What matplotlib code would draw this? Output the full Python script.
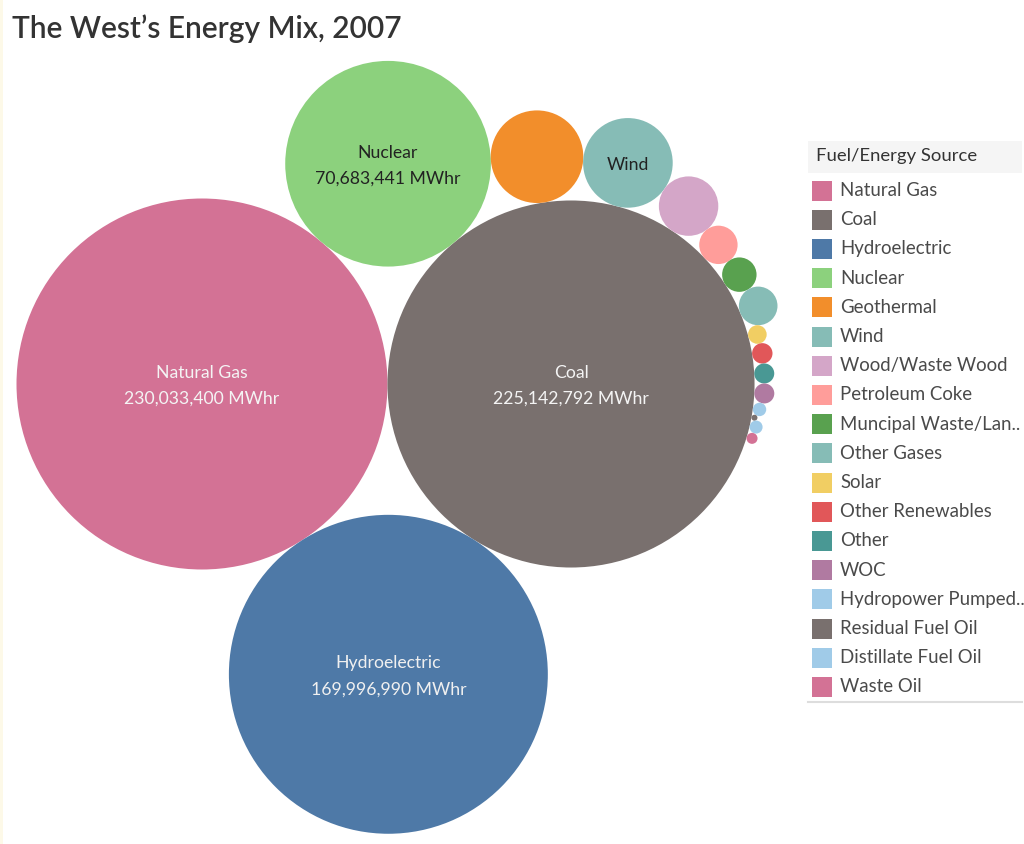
import numpy as np
import matplotlib
matplotlib.use("Agg")
import matplotlib.pyplot as plt
from matplotlib.patches import Circle, Rectangle

plt.rcParams['font.family'] = ['Lato', 'DejaVu Sans']

# data (MWhr); small ones
sources = ["Natural Gas", "Coal", "Hydroelectric", "Nuclear", "Geothermal", "Wind",
           "Wood/Waste Wood", "Petroleum Coke", "Muncipal Waste/Landfill Gas", "Other Gases",
           "Solar", "Other Renewables", "Other", "WOC", "Hydropower Pumped Storage",
           "Residual Fuel Oil", "Distillate Fuel Oil", "Waste Oil"]
mwhr = [230033400, 225142792, 169996990, 70683441, 14330000, 13420000,
        5900000, 2460000, 1980000, 2490000,
        578000, 696000, 668000, 668000, 300000,
        60000, 282000, 202000]
legend_labels = ["Natural Gas", "Coal", "Hydroelectric", "Nuclear", "Geothermal", "Wind",
                 "Wood/Waste Wood", "Petroleum Coke", "Muncipal Waste/Lan..", "Other Gases",
                 "Solar", "Other Renewables", "Other", "WOC", "Hydropower Pumped..",
                 "Residual Fuel Oil", "Distillate Fuel Oil", "Waste Oil"]
colors = ["#D37295", "#79706E", "#4E79A7", "#8CD17D", "#F28E2B", "#86BCB6",
          "#D4A6C8", "#FF9D9A", "#59A14F", "#86BCB6",
          "#F1CE63", "#E15759", "#499894", "#B07AA1", "#A0CBE8",
          "#79706E", "#A0CBE8", "#D37295"]
# which bubbles carry a label: (show value?, text colour)
labelled = {"Natural Gas": (True, "#f4f4f4"), "Coal": (True, "#f4f4f4"),
            "Hydroelectric": (True, "#f0f0f0"), "Nuclear": (True, "#222222"),
            "Wind": (False, "#222222")}

W, H = 1024, 844
MAX_R = 185.5          # px radius of the biggest bubble
ANCHOR = (202, 384)    # where the first bubble sits


def place(x, y, r, a, b, c):
    # circle c tangent to a and b, on the outer side of a->b
    dx, dy = x[b] - x[a], y[b] - y[a]
    d = np.hypot(dx, dy)
    da, db = r[a] + r[c], r[b] + r[c]
    t = (d * d + da * da - db * db) / (2 * d)
    h = np.sqrt(max(0.0, da * da - t * t))
    ux, uy = dx / d, dy / d
    return x[a] + t * ux + h * uy, y[a] + t * uy - h * ux


def hits(x, y, r, p, q):
    dr = r[p] + r[q] - 1e-6
    return dr > 0 and dr * dr > (x[p] - x[q]) ** 2 + (y[p] - y[q]) ** 2


def pack(r):
    n = len(r)
    x = np.zeros(n)
    y = np.zeros(n)
    x[1] = r[0] + r[1]
    x[2], y[2] = place(x, y, r, 1, 0, 2)
    nxt = {0: 1, 1: 2, 2: 0}
    prv = {1: 0, 2: 1, 0: 2}
    a, b = 0, 1
    i = 3
    while i < n:
        x[i], y[i] = place(x, y, r, a, b, i)
        j, k = nxt[b], prv[a]
        sj, sk = r[b], r[a]
        hit = False
        while True:
            if sj <= sk:
                if hits(x, y, r, j, i):
                    b = j
                    nxt[a], prv[b] = b, a
                    hit = True
                    break
                sj += r[j]
                j = nxt[j]
            else:
                if hits(x, y, r, k, i):
                    a = k
                    nxt[a], prv[b] = b, a
                    hit = True
                    break
                sk += r[k]
                k = prv[k]
            if j == nxt[k]:
                break
        if hit:
            continue
        nxt[a], prv[i], nxt[i], prv[b] = i, a, b, i
        a = i  # keep spiralling round b
        i += 1
    return x, y


vals = np.array(mwhr, dtype=float)
rad = MAX_R * np.sqrt(vals / vals.max())
cx, cy = pack(rad)
cx = cx - cx[0] + ANCHOR[0]
cy = cy - cy[0] + ANCHOR[1]

fig = plt.figure(figsize=(W / 100, H / 100), dpi=100)
ax = fig.add_axes([0, 0, 1, 1])
ax.set_xlim(0, W)
ax.set_ylim(H, 0)
ax.axis('off')

ax.add_patch(Rectangle((0, 0), 2.5, H, color="#fdf9e8", lw=0))

for name, x0, y0, r0, col, v in zip(sources, cx, cy, rad, colors, mwhr):
    ax.add_patch(Circle((x0, y0), r0, facecolor=col, edgecolor='none'))
    if name in labelled:
        show_val, tc = labelled[name]
        txt = name + ("\n{:,} MWhr".format(v) if show_val else "")
        ax.text(x0, y0 + 2, txt, ha='center', va='center', color=tc,
                fontsize=12.7, linespacing=1.75)

ax.text(12, 29, "The West\u2019s Energy Mix, 2007", fontsize=21.5, color="#333333",
        ha='left', va='center', fontweight='semibold')

# legend
lx, ly0, step = 808, 190.5, 29.2
ax.add_patch(Rectangle((lx, 141), W - lx - 2, 32, color="#f5f5f5", lw=0))
ax.text(lx + 8, 156, "Fuel/Energy Source", fontsize=13.3, color="#333333",
        ha='left', va='center')
for i, (lab, col) in enumerate(zip(legend_labels, colors)):
    yy = ly0 + i * step
    ax.add_patch(Rectangle((lx + 4, yy - 10), 20, 20, facecolor=col, edgecolor='none'))
    ax.text(lx + 32, yy, lab, fontsize=13.4, color="#4a4a4a", ha='left', va='center')
ax.plot([lx, W - 2], [702, 702], color="#dddddd", lw=1.5)

fig.savefig("out.png", dpi=100, facecolor='white')
